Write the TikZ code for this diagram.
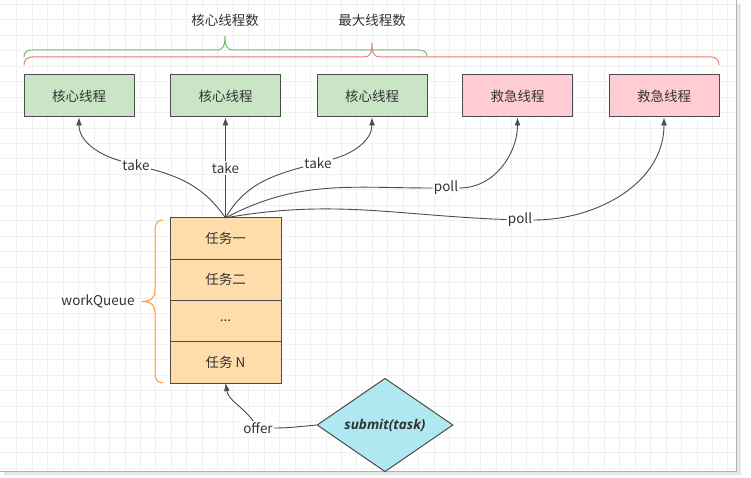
\documentclass[tikz,border=0pt]{standalone}
\usepackage{fontspec}
\setmainfont{Noto Sans CJK SC}
\newfontfamily\subfont{Open Sans}
\usepackage{tikz}
\usetikzlibrary{positioning,shapes.geometric,arrows.meta}

\definecolor{coregreen}{HTML}{C9E5C6}
\definecolor{extrapink}{HTML}{FFCCD3}
\definecolor{queueorange}{HTML}{FEDDAB}
\definecolor{submitcyan}{HTML}{AFE8F0}
\definecolor{bracegreen}{HTML}{6CC06A}
\definecolor{bracered}{HTML}{EE7B7B}
\definecolor{braceorange}{HTML}{FF9A33}
\definecolor{inkgray}{HTML}{333333}

\begin{document}
\begin{tikzpicture}[
			x=1pt, y=1pt,
			font=\fontsize{13.5}{16}\selectfont, text=inkgray,
			thread/.style={draw=black!70, line width=1pt, minimum width=110pt, minimum height=42pt, inner sep=0pt},
			core/.style={thread, fill=coregreen},
			extra/.style={thread, fill=extrapink},
			cell/.style={draw=black!70, line width=1pt, fill=queueorange, minimum width=111pt, minimum height=41.3pt, inner sep=0pt, outer sep=0pt},
			lbl/.style={fill=white, inner sep=1pt},
			link/.style={draw=black!70, line width=0.9pt, -{Latex[length=8pt,width=6pt]}},
			brace/.style={line width=1pt, line cap=round},
			gridline/.style={draw=black!6, line width=0.8pt},
		]

			%Page
			\useasboundingbox[fill=white] (0,0) rectangle (751,-478);
			\foreach \k in {0,...,46}
				\draw[gridline] ({16.7+15.46*\k},0) -- ({16.7+15.46*\k},-471);
			\foreach \k in {0,...,30}
				\draw[gridline] (0,{-4.3-15.46*\k}) -- (736,{-4.3-15.46*\k});
			\fill[black!10] (737,-4) rectangle (741,-475);
			\fill[black!10] (4,-472) rectangle (741,-475);
			\draw[black!30, line width=0.8pt] (736.5,0) -- (736.5,-471.5) -- (0,-471.5);

			%Nodes
			\node[core]		(c1)	at (79,-96)		{核心线程};
			\node[core]		(c2)	at (225.5,-96)	{核心线程};
			\node[core]		(c3)	at (372,-96)	{核心线程};
			\node[extra]	(e1)	at (517.5,-96)	{救急线程};
			\node[extra]	(e2)	at (664,-96)	{救急线程};

			\node[cell]		(q1)	at (225.5,-238.5)	{任务一};
			\node[cell]		(q2)	[below=0pt of q1]	{任务二};
			\node[cell]		(q3)	[below=0pt of q2]	{...};
			\node[cell]		(q4)	[below=0pt of q3]	{任务 N};

			\node[diamond, draw=black!70, line width=1pt, fill=submitcyan, minimum width=136pt, minimum height=61pt, inner sep=0pt]
							(sub)	at (385,-425)	{\subfont\bfseries\itshape submit(task)};

			\node			(coreN)	at (225,-20)	{核心线程数};
			\node			(maxN)	at (372,-20)	{最大线程数};
			\node			(wq)	at (98,-301)	{workQueue};

			\node[lbl]		(t1)	at (136,-165)	{take};
			\node[lbl]		(t2)	at (225.5,-168)	{take};
			\node[lbl]		(t3)	at (318,-163)	{take};
			\node[lbl]		(p1)	at (446,-188)	{poll};
			\node[lbl]		(p2)	at (520,-220)	{poll};
			\node[lbl]		(of)	at (258,-428)	{offer};

			%Braces
			\draw[brace, bracered] (24,-65) .. controls (24,-60) and (27,-57) .. (32,-57) -- (364,-57)
				.. controls (370,-57) and (372,-53) .. (372,-43) .. controls (372,-53) and (374,-57) .. (380,-57)
				-- (711,-57) .. controls (716,-57) and (719,-60) .. (719,-65);
			\draw[brace, bracegreen] (24,-57) .. controls (24,-52) and (27,-50) .. (32,-50) -- (217,-50)
				.. controls (223,-50) and (225,-46) .. (225,-36) .. controls (225,-46) and (227,-50) .. (233,-50)
				-- (419,-50) .. controls (424,-50) and (427,-52) .. (427,-57);
			\draw[brace, braceorange] (163,-220) .. controls (158,-220) and (155,-223) .. (155,-230) -- (155,-290)
				.. controls (155,-297) and (152,-301.5) .. (142,-301.5) .. controls (152,-301.5) and (155,-306) .. (155,-313)
				-- (155,-373) .. controls (155,-380) and (158,-383) .. (163,-383);

			%Lines
			\draw[link] (q1.north) to[out=125,in=-15] (t1) to[out=165,in=-90] (c1.south);
			\draw[link] (q1.north) -- (t2) -- (c2.south);
			\draw[link] (q1.north) to[out=60,in=195] (t3) to[out=15,in=-90] (c3.south);
			\draw[link] (q1.north) to[out=28,in=180] (p1) to[out=0,in=-90] (e1.south);
			\draw[link] (q1.north) to[out=10,in=178] (p2) to[out=0,in=-90] (e2.south);
			\draw[link] (sub.west) to[out=185,in=0] (of) to[out=125,in=-80] (q4.south);

		\end{tikzpicture}
\end{document}
